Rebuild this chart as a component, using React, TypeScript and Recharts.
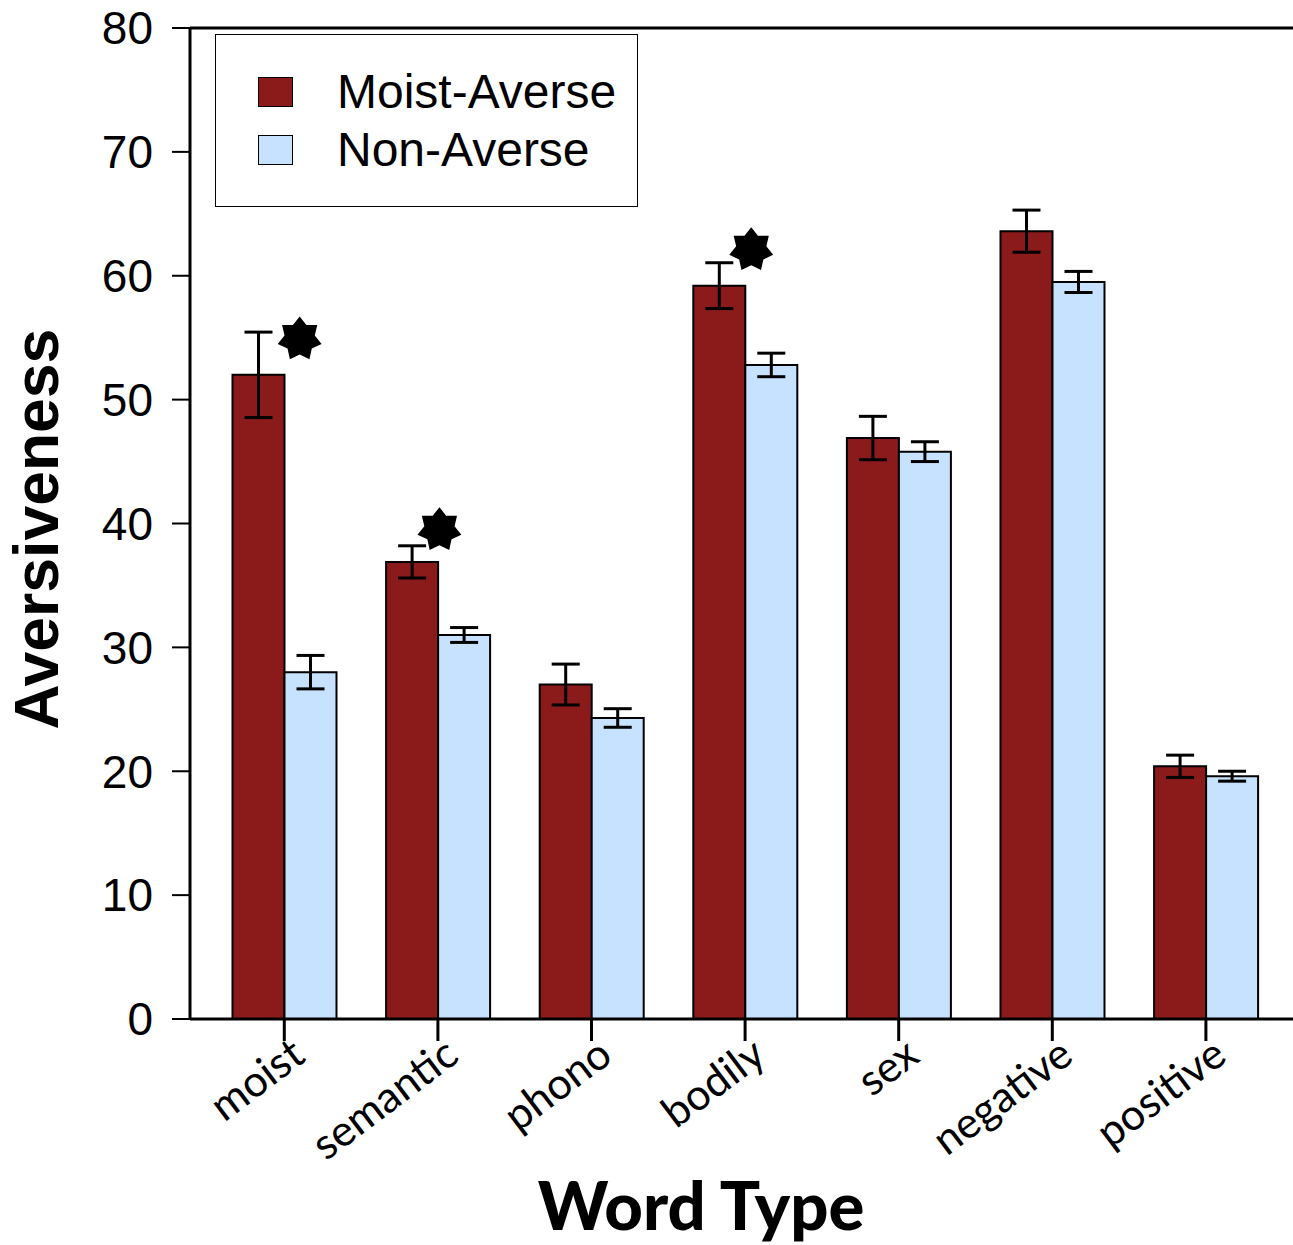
import { ComposedChart, Bar, XAxis, YAxis, ErrorBar, Scatter, ReferenceLine, Label } from "recharts";

const wordTypes = ["moist", "semantic", "phono", "bodily", "sex", "negative", "positive"];
const moistAverse = [52.0, 36.9, 27.0, 59.2, 46.9, 63.6, 20.4];
const moistAverseErr = [3.45, 1.3, 1.65, 1.85, 1.75, 1.7, 0.9];
const nonAverse = [28.0, 31.0, 24.3, 52.8, 45.8, 59.5, 19.6];
const nonAverseErr = [1.35, 0.6, 0.75, 0.95, 0.8, 0.85, 0.4];
const yTicks = [0, 10, 20, 30, 40, 50, 60, 70, 80];

// significance stars, x in category units (0 = left edge of "moist" band)
const starX = [0.6, 1.51, 3.54];
const starY = [54.9, 39.5, 62.1];

const seriesNames = ["Moist-Averse", "Non-Averse"];
const seriesColors = ["#8B1A1A", "#C6E2FF"];

const data = wordTypes.map((type, i) => ({
  type,
  moist: moistAverse[i],
  moistErr: moistAverseErr[i],
  non: nonAverse[i],
  nonErr: nonAverseErr[i],
}));
const stars = starX.map((x, i) => ({ x, y: starY[i] }));

const PAD = { left: 17.5, right: 10.3 };

function Star(props: any) {
  const { cx, cy } = props;
  const R = 22.5;
  const r = 15.5;
  const pts: string[] = [];
  for (let k = 0; k < 14; k++) {
    const a = -Math.PI / 2 + (k * Math.PI) / 7;
    const rad = k % 2 === 0 ? R : r;
    pts.push(`${cx + rad * Math.cos(a)},${cy + rad * Math.sin(a)}`);
  }
  return <polygon points={pts.join(" ")} fill="#000" />;
}

function WordTick({ x, y, payload }: any) {
  const tx = x + 23;
  const ty = y + 17;
  return (
    <text
      x={tx}
      y={ty}
      transform={`rotate(-37 ${tx} ${ty})`}
      textAnchor="end"
      fontFamily="Lato, 'Open Sans', sans-serif"
      fontSize={43}
      fill="#000"
    >
      {payload.value}
    </text>
  );
}

function LegendBox() {
  return (
    <div
      style={{
        position: "absolute",
        left: 215,
        top: 34,
        width: 423,
        height: 173,
        boxSizing: "border-box",
        border: "1.5px solid #000",
        background: "#fff",
        fontFamily: "'Liberation Sans', Arial, sans-serif",
        fontSize: 48,
        color: "#000",
      }}
    >
      {seriesNames.map((name, i) => (
        <div key={name} style={{ position: "absolute", left: 42, top: 42 + i * 58, height: 30, display: "flex", alignItems: "center" }}>
          <div style={{ width: 35, height: 30, boxSizing: "border-box", border: "1.5px solid #000", background: seriesColors[i] }} />
          <span style={{ marginLeft: 44, lineHeight: "30px", whiteSpace: "nowrap" }}>{name}</span>
        </div>
      ))}
    </div>
  );
}

export default function App() {
  return (
    <div style={{ position: "relative", width: 1293, height: 1245, background: "#fff" }}>
      <style>{"body{margin:0}"}</style>
      <ComposedChart
        width={1293}
        height={1245}
        data={data}
        margin={{ top: 28, right: 0, bottom: 0, left: 0 }}
        barGap={0}
      >
        <XAxis
          dataKey="type"
          padding={PAD}
          height={226}
          interval={0}
          tickSize={22}
          tickLine={{ stroke: "#000", strokeWidth: 3 }}
          axisLine={{ stroke: "#000", strokeWidth: 3 }}
          tick={<WordTick />}
        >
          <Label
            content={({ viewBox }: any) => (
              <text
                x={viewBox.x + 511}
                y={viewBox.y + 211}
                textAnchor="middle"
                fontFamily="Lato, 'Open Sans', sans-serif"
                fontWeight={900}
                fontSize={67}
                fill="#000"
              >
                Word Type
              </text>
            )}
          />
        </XAxis>
        <XAxis xAxisId="num" type="number" dataKey="x" domain={[0, 7]} padding={PAD} hide />
        <YAxis
          width={190}
          domain={[0, 80]}
          ticks={yTicks}
          interval={0}
          tickSize={18}
          tickMargin={19}
          tickLine={{ stroke: "#000", strokeWidth: 2 }}
          axisLine={{ stroke: "#000", strokeWidth: 3 }}
          tick={{ fill: "#000", fontSize: 46, fontFamily: "'Liberation Sans', Arial, sans-serif" }}
        >
          <Label
            content={() => (
              <text
                x={58}
                y={529}
                transform="rotate(-90 58 529)"
                textAnchor="middle"
                fontFamily="'Liberation Sans', Arial, sans-serif"
                fontWeight={700}
                fontSize={62.5}
                fill="#000"
              >
                Aversiveness
              </text>
            )}
          />
        </YAxis>
        <ReferenceLine y={80} stroke="#000" strokeWidth={3} />
        <Bar dataKey="moist" name={seriesNames[0]} barSize={52} fill={seriesColors[0]} stroke="#000" strokeWidth={2} isAnimationActive={false}>
          <ErrorBar dataKey="moistErr" width={14} stroke="#000" strokeWidth={3} direction="y" />
        </Bar>
        <Bar dataKey="non" name={seriesNames[1]} barSize={52} fill={seriesColors[1]} stroke="#000" strokeWidth={2} isAnimationActive={false}>
          <ErrorBar dataKey="nonErr" width={14} stroke="#000" strokeWidth={3} direction="y" />
        </Bar>
        <Scatter data={stars} xAxisId="num" dataKey="y" shape={<Star />} isAnimationActive={false} />
      </ComposedChart>
      <LegendBox />
    </div>
  );
}
